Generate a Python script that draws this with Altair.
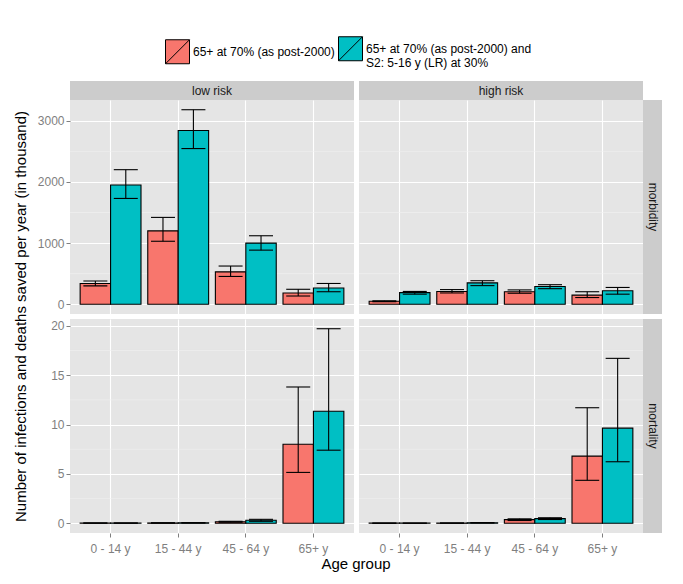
import altair as alt
import pandas as pd

ages = ["0 - 14 y", "15 - 44 y", "45 - 64 y", "65+ y"]
series = ["65+ at 70% (as post-2000)",
          "65+ at 70% (as post-2000) and| S2: 5-16 y (LR) at 30%"]
colors = ["#F8766D", "#00BFC4"]
risks = ["low risk", "high risk"]
outcomes = ["morbidity", "mortality"]

# morbidity, low risk
morb_low_s1 = [340, 1200, 530, 185]
morb_low_s1_lo = [300, 1030, 455, 135]
morb_low_s1_hi = [380, 1420, 625, 245]
morb_low_s2 = [1950, 2840, 1000, 265]
morb_low_s2_lo = [1730, 2545, 885, 205]
morb_low_s2_hi = [2200, 3180, 1120, 340]
# morbidity, high risk
morb_high_s1 = [50, 210, 205, 150]
morb_high_s1_lo = [44, 185, 180, 110]
morb_high_s1_hi = [57, 240, 235, 205]
morb_high_s2 = [190, 350, 290, 220]
morb_high_s2_lo = [165, 305, 255, 165]
morb_high_s2_hi = [210, 385, 320, 275]
# mortality, low risk
mort_low_s1 = [0.02, 0.03, 0.15, 8.0]
mort_low_s1_lo = [0.01, 0.02, 0.1, 5.15]
mort_low_s1_hi = [0.03, 0.05, 0.2, 13.8]
mort_low_s2 = [0.02, 0.04, 0.3, 11.35]
mort_low_s2_lo = [0.01, 0.03, 0.2, 7.4]
mort_low_s2_hi = [0.03, 0.06, 0.4, 19.7]
# mortality, high risk
mort_high_s1 = [0.01, 0.02, 0.37, 6.8]
mort_high_s1_lo = [0.005, 0.01, 0.28, 4.35]
mort_high_s1_hi = [0.015, 0.03, 0.45, 11.7]
mort_high_s2 = [0.01, 0.05, 0.47, 9.63]
mort_high_s2_lo = [0.005, 0.03, 0.38, 6.23]
mort_high_s2_hi = [0.015, 0.07, 0.56, 16.7]

table = {
    ("morbidity", "low risk"): [(morb_low_s1, morb_low_s1_lo, morb_low_s1_hi),
                                (morb_low_s2, morb_low_s2_lo, morb_low_s2_hi)],
    ("morbidity", "high risk"): [(morb_high_s1, morb_high_s1_lo, morb_high_s1_hi),
                                 (morb_high_s2, morb_high_s2_lo, morb_high_s2_hi)],
    ("mortality", "low risk"): [(mort_low_s1, mort_low_s1_lo, mort_low_s1_hi),
                                (mort_low_s2, mort_low_s2_lo, mort_low_s2_hi)],
    ("mortality", "high risk"): [(mort_high_s1, mort_high_s1_lo, mort_high_s1_hi),
                                 (mort_high_s2, mort_high_s2_lo, mort_high_s2_hi)],
}

y_domains = {"morbidity": [-159, 3339], "mortality": [-0.985, 20.685]}
y_major = {"morbidity": [0, 1000, 2000, 3000], "mortality": [0, 5, 10, 15, 20]}
y_minor = {"morbidity": [500, 1500, 2500], "mortality": [2.5, 7.5, 12.5, 17.5]}

W, H = 284, 214
STRIP = 19
FONT = "Liberation Sans"
GREY = "#7F7F7F"


def panel(outcome, risk, col, row):
    recs = []
    for s, (v, lo, hi) in zip(series, table[(outcome, risk)]):
        for a, vv, l, h in zip(ages, v, lo, hi):
            recs.append({"age": a, "series": s, "value": vv, "lo": l, "hi": h})
    d = pd.DataFrame(recs)
    left = col == 0
    bottom = row == 1
    xaxis = alt.Axis(grid=True, gridColor="white", gridWidth=1.1, bandPosition=0.5,
                     title=None, labels=bottom, ticks=bottom, domain=False,
                     labelAngle=0, labelColor=GREY, labelFontSize=12,
                     tickColor=GREY, tickSize=4, labelPadding=6)
    yaxis = alt.Axis(values=y_major[outcome], grid=True, gridColor="white",
                     gridWidth=1.1, labels=left, ticks=left, domain=False,
                     title=None, labelColor=GREY, labelFontSize=12,
                     tickColor=GREY, tickSize=4, labelPadding=2, format="d")
    xs = alt.X("age:N", sort=ages,
               scale=alt.Scale(domain=ages, paddingInner=0.1, paddingOuter=0.15),
               axis=xaxis)
    xo = alt.XOffset("series:N", sort=series,
                     scale=alt.Scale(domain=series, paddingInner=0, paddingOuter=0))
    ysc = alt.Scale(domain=y_domains[outcome], nice=False, zero=False)

    base = alt.Chart(d)
    minor = alt.Chart(pd.DataFrame({"m": y_minor[outcome]})).mark_rule(
        color="#F2F2F2", strokeWidth=0.6).encode(
        y=alt.Y("m:Q", scale=ysc, axis=yaxis))
    bars = base.mark_bar(stroke="black", strokeWidth=1.1).encode(
        x=xs, xOffset=xo,
        y=alt.Y("value:Q", scale=ysc, axis=yaxis),
        color=alt.Color("series:N", sort=series,
                        scale=alt.Scale(domain=series, range=colors),
                        legend=alt.Legend(
                            title=None, orient="none", legendX=95, legendY=-64,
                            direction="horizontal", columns=2,
                            symbolType="M-1,-1H1V1H-1Z M-1,1L1,-1",
                            symbolSize=576, symbolStrokeColor="black",
                            symbolStrokeWidth=1, symbolOpacity=1,
                            labelFontSize=12, labelColor="black",
                            labelExpr="split(datum.label, '|')",
                            labelLimit=0, columnPadding=1, labelOffset=3)))
    rule = base.mark_rule(color="black", strokeWidth=1.1).encode(
        x=xs, xOffset=xo,
        y=alt.Y("lo:Q", scale=ysc, axis=yaxis), y2="hi:Q")
    cap_lo = base.mark_tick(color="black", thickness=1.1, size=24, opacity=1).encode(
        x=xs, xOffset=xo, y=alt.Y("lo:Q", scale=ysc, axis=yaxis))
    cap_hi = base.mark_tick(color="black", thickness=1.1, size=24, opacity=1).encode(
        x=xs, xOffset=xo, y=alt.Y("hi:Q", scale=ysc, axis=yaxis))

    one = alt.Chart(pd.DataFrame({"k": [0]}))
    layers = [minor, bars, rule, cap_lo, cap_hi]
    if row == 0:
        layers.append(one.mark_rect(color="#CCCCCC").encode(
            x=alt.value(0), x2=alt.value(W), y=alt.value(-STRIP), y2=alt.value(0)))
        layers.append(one.mark_text(fontSize=12, color="#1A1A1A").encode(
            x=alt.value(W / 2), y=alt.value(-STRIP / 2), text=alt.value(risk)))
    if col == 1:
        layers.append(one.mark_rect(color="#CCCCCC").encode(
            x=alt.value(W), x2=alt.value(W + STRIP), y=alt.value(0), y2=alt.value(H)))
        layers.append(one.mark_text(fontSize=12, color="#1A1A1A", angle=90).encode(
            x=alt.value(W + STRIP / 2), y=alt.value(H / 2), text=alt.value(outcome)))
    if row == 0 and col == 0:
        layers.append(one.mark_text(fontSize=15, color="black", angle=270).encode(
            x=alt.value(-49), y=alt.value(H + 2.5),
            text=alt.value("Number of infections and deaths saved per year (in thousand)")))
    if row == 1 and col == 0:
        layers.append(one.mark_text(fontSize=15, color="black").encode(
            x=alt.value(286), y=alt.value(245), text=alt.value("Age group")))
    return alt.layer(*layers).properties(width=W, height=H)


panels = []
for r, oc in enumerate(outcomes):
    for c, rk in enumerate(risks):
        panels.append(panel(oc, rk, c, r))

chart = alt.concat(*panels, columns=2, spacing=5, bounds="flush").resolve_scale(
    x="independent", y="independent", color="shared").configure(
    font=FONT).configure_view(fill="#E5E5E5", stroke=None).properties(
    padding={"left": 5, "top": 28, "right": 5, "bottom": 5})

chart.save("out.html", embed_options={"renderer": "svg", "actions": False})
